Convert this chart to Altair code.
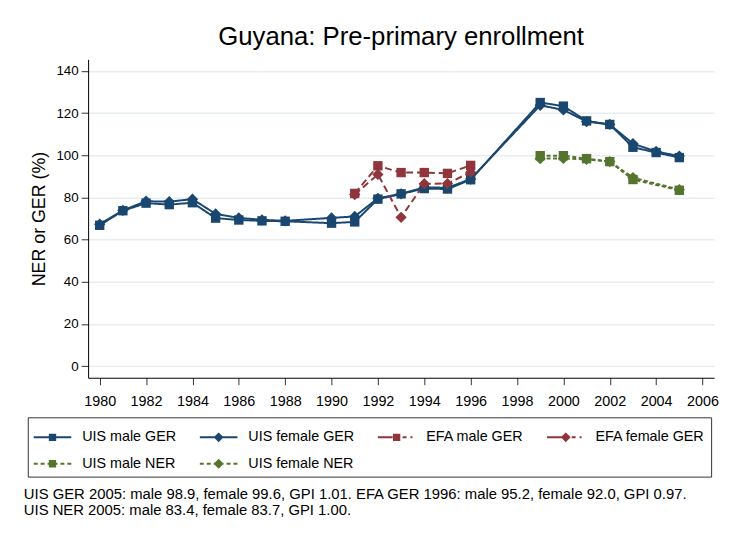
import altair as alt
import pandas as pd

# ---------------- data ----------------
series = ["UIS male GER", "UIS female GER", "EFA male GER", "EFA female GER",
          "UIS male NER", "UIS female NER"]

uis_years = [1980, 1981, 1982, 1983, 1984, 1985, 1986, 1987, 1988, 1990, 1991,
             1992, 1993, 1994, 1995, 1996, 1999, 2000, 2001, 2002, 2003, 2004, 2005]
uis_male_ger = [66.8, 73.7, 77.3, 76.6, 77.5, 70.2, 69.3, 68.9, 68.7, 67.8, 68.4,
                79.2, 81.7, 84.2, 84.0, 88.4, 125.0, 123.3, 116.3, 114.6, 103.8, 101.3, 98.9]
uis_female_ger = [67.3, 73.9, 78.2, 78.0, 79.2, 72.2, 70.3, 69.4, 68.9, 70.3, 71.0,
                  79.6, 81.7, 84.8, 84.6, 88.7, 123.7, 121.5, 116.0, 114.6, 105.5, 101.8, 99.6]

efa_years = [1991, 1992, 1993, 1994, 1995, 1996]
efa_male_ger = [81.9, 95.0, 91.8, 91.8, 91.4, 95.2]
efa_female_ger = [81.4, 90.9, 70.6, 86.5, 86.6, 92.0]

ner_years = [1999, 2000, 2001, 2002, 2003, 2005]
uis_male_ner = [99.8, 99.8, 98.4, 97.0, 88.5, 83.4]
uis_female_ner = [98.4, 98.5, 98.0, 97.0, 89.4, 83.7]

x_ticks = list(range(1980, 2007, 2))
y_ticks = list(range(0, 141, 20))

title_text = "Guyana: Pre-primary enrollment"
y_title = "NER or GER (%)"
footnote_lines = [
    "UIS GER 2005: male 98.9, female 99.6, GPI 1.01. EFA GER 1996: male 95.2, female 92.0, GPI 0.97.",
    "UIS NER 2005: male 83.4, female 83.7, GPI 1.00.",
]

# ---------------- styles ----------------
FONT = "Liberation Sans"
colors = ["#1a476f", "#1a476f", "#90353b", "#90353b", "#55752f", "#55752f"]
dashes = [[1, 0], [1, 0], [7, 4], [7, 4], [4, 2.5], [4, 2.5]]
male_series = [s for s in series if " male " in s]
female_series = [s for s in series if " female " in s]

SYM_D = 28          # legend symbol nominal diameter (px)
U = SYM_D / 2.0     # px per path unit


def u(px):
    return round(px / U, 4)


def seg(a, b):
    return f"M{u(a)},{u(-1)}H{u(b)}V{u(1)}H{u(a)}Z"


SQ = f"M{u(-3.7)},{u(-3.7)}H{u(3.7)}V{u(3.7)}H{u(-3.7)}Z"
DM = f"M0,{u(-5)}L{u(5)},0L0,{u(5)}L{u(-5)},0Z"
solid = seg(-19, 19)
longdash = seg(-19, -4) + seg(6, 10) + seg(14, 16)
shortdash = seg(-19, -15) + seg(-12, -8) + seg(-5, 5) + seg(8, 12) + seg(15, 19)
legend_paths = [solid + SQ, solid + DM, longdash + SQ, longdash + DM,
                shortdash + SQ, shortdash + DM]

# ---------------- table ----------------
rows = []
for name, yrs, vals in [
    ("UIS male GER", uis_years, uis_male_ger),
    ("UIS female GER", uis_years, uis_female_ger),
    ("EFA male GER", efa_years, efa_male_ger),
    ("EFA female GER", efa_years, efa_female_ger),
    ("UIS male NER", ner_years, uis_male_ner),
    ("UIS female NER", ner_years, uis_female_ner),
]:
    for y, v in zip(yrs, vals):
        rows.append({"series": name, "year": y, "value": v})
df = pd.DataFrame(rows)
df_leg = pd.DataFrame({"series": series, "year": [None] * len(series),
                       "value": [None] * len(series)})

xscale = alt.Scale(domain=[1979.5, 2006.5], nice=False, zero=False)
yscale = alt.Scale(domain=[-5.5, 145.5], nice=False, zero=False)

x_enc = alt.X("year:Q", scale=xscale,
              axis=alt.Axis(values=x_ticks, format="d", title=None, grid=False,
                            labelFontSize=14.5, labelPadding=10, tickSize=7,
                            labelFlush=False))
y_enc = alt.Y("value:Q", scale=yscale,
              axis=alt.Axis(values=y_ticks, title=y_title, grid=True,
                            labelFontSize=13.5, labelPadding=3, tickSize=7,
                            titleFontSize=18, titleFontWeight="normal",
                            titlePadding=8))
color_noleg = alt.Color("series:N", scale=alt.Scale(domain=series, range=colors), legend=None)

lines = alt.Chart(df).mark_line(strokeWidth=2).encode(
    x=x_enc, y=y_enc, color=color_noleg,
    strokeDash=alt.StrokeDash("series:N", scale=alt.Scale(domain=series, range=dashes), legend=None),
    detail="series:N",
    order="year:Q",
)

squares = alt.Chart(df).transform_filter(
    alt.FieldOneOfPredicate(field="series", oneOf=male_series)
).mark_point(filled=True, shape="square", size=90, opacity=1).encode(
    x="year:Q", y="value:Q", color=color_noleg)

diamonds = alt.Chart(df).transform_filter(
    alt.FieldOneOfPredicate(field="series", oneOf=female_series)
).mark_point(filled=True, shape="diamond", size=130, opacity=1).encode(
    x="year:Q", y="value:Q", color=color_noleg)

leg_props = dict(
    title=None, orient="none", legendX=-61, legendY=362, columns=4,
    direction="horizontal",
    symbolSize=SYM_D * SYM_D, symbolStrokeWidth=0, symbolOffset=5,
    labelFontSize=14.5, labelFont=FONT, labelColor="black", labelOffset=16,
    columnPadding=23, rowPadding=6, padding=6,
    strokeColor="#333333", fillColor="white", labelLimit=300,
)

legend_layer = alt.Chart(df_leg).mark_point(filled=True, opacity=1).encode(
    x="year:Q", y="value:Q",
    color=alt.Color("series:N", scale=alt.Scale(domain=series, range=colors),
                    legend=alt.Legend(**leg_props)),
    shape=alt.Shape("series:N", scale=alt.Scale(domain=series, range=legend_paths),
                    legend=alt.Legend(**leg_props)),
)

footnote = alt.Chart(pd.DataFrame({"k": [0]})).mark_text(
    text=footnote_lines, align="left", baseline="top", fontSize=15,
    lineHeight=16, font=FONT, color="black",
).encode(x=alt.value(-65), y=alt.value(433))

chart = alt.layer(lines, squares, diamonds, legend_layer, footnote).resolve_legend(
    color="independent", shape="independent", strokeDash="independent"
).properties(
    width=633, height=322,
    title=alt.TitleParams(title_text, fontSize=26, font=FONT, fontWeight="normal",
                          color="black", anchor="middle", offset=10, frame="group",
                          baseline="alphabetic", dy=22),
    autosize=alt.AutoSizeParams(type="none"),
    padding={"left": 81, "top": 49, "right": 8, "bottom": 145},
).configure(
    font=FONT, background="white",
).configure_view(
    stroke="transparent"
).configure_axis(
    labelFont=FONT, titleFont=FONT, labelColor="black", titleColor="black",
    domainColor="black", domainWidth=1, tickColor="#333333", tickWidth=1,
    gridColor="#e6eef2", gridWidth=1.5,
)

chart.save("out.html", embed_options={"renderer": "svg", "actions": False})
